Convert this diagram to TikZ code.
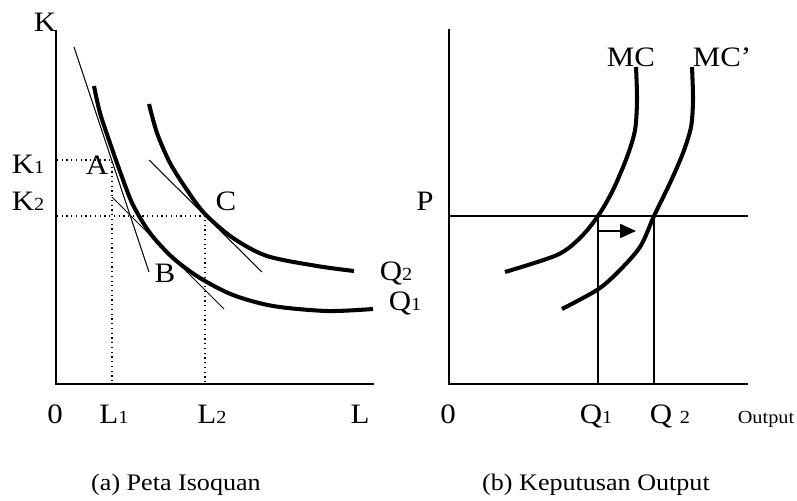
\documentclass[tikz,border=0pt]{standalone}
\usepackage{fontspec}
\setmainfont{Liberation Serif}[FakeStretch=1.1]
\usetikzlibrary{arrows.meta}
\newcommand{\sub}[1]{{\fontsize{10.5}{11}\selectfont #1}}

\begin{document}
\begin{tikzpicture}[x=0.02cm, y=-0.02cm,
  axis/.style={line width=1.1pt},
  curve/.style={line width=2.3pt, smooth},
  tang/.style={line width=0.6pt},
  guide/.style={line width=0.7pt, dotted},
  level/.style={line width=0.9pt},
  lbl/.style={font=\fontsize{16}{18}\selectfont, inner sep=0pt, anchor=base},
  captionlbl/.style={font=\fontsize{13.5}{15}\selectfont, inner sep=0pt, anchor=base},
  arr/.style={-{Triangle[length=9pt, width=8pt]}, line width=0.8pt}
]
\useasboundingbox (0,0) rectangle (797,500);

% (a) Isoquant map
\coordinate (ko) at (56,384);
\coordinate (ktop) at (56,30);
\coordinate (lend) at (374,384);
\draw[axis] (ktop) -- (ko) -- (lend);

% Isoquants
\draw[curve] plot coordinates {(94,86) (100,113) (110,143) (122,177) (133,205)
  (150,233) (173,258) (200,278) (233,295) (273,306) (327,311) (373,309)};
\draw[curve] plot coordinates {(149,104) (157,133) (170,163) (187,190)
  (205,214) (233,238) (267,256) (317,266) (354,271)};

% Tangents at A, B and C
\coordinate (ta1) at (74,47);   \coordinate (ta2) at (149,272);
\coordinate (tb1) at (112,197); \coordinate (tb2) at (224,309);
\coordinate (tc1) at (149,160); \coordinate (tc2) at (262,272);
\draw[tang] (ta1) -- (ta2);
\draw[tang] (tb1) -- (tb2);
\draw[tang] (tc1) -- (tc2);

% Dotted guides
\coordinate (k1) at (57,160);
\coordinate (k2) at (57,216);
\coordinate (l1) at (112,384);
\coordinate (l2) at (205,384);
\draw[guide] (k1) -| (l1);
\draw[guide] (k2) -| (l2);

% Labels
\node[lbl] (klab) at (45,32) {K};
\node[lbl] (k1lab) at (28,173) {K\sub{1}};
\node[lbl] (k2lab) at (28,210) {K\sub{2}};
\node[lbl] (alab) at (97,174) {A};
\node[lbl] (blab) at (165,282) {B};
\node[lbl] (clab) at (226,210) {C};
\node[lbl] (q2lab) at (396,280) {Q\sub{2}};
\node[lbl] (q1lab) at (405,310) {Q\sub{1}};
\node[lbl] (o1lab) at (55,423) {0};
\node[lbl] (l1lab) at (114,423) {L\sub{1}};
\node[lbl] (l2lab) at (212,423) {L\sub{2}};
\node[lbl] (llab) at (360,423) {L};
\node[captionlbl] (capa) at (176,490) {(a) Peta Isoquan};

% (b) Output decision
\coordinate (po) at (449,384);
\coordinate (ptop) at (449,29);
\coordinate (qend) at (748,384);
\coordinate (pend) at (748,216);
\coordinate (pleft) at (449,216);
\draw[axis] (ptop) -- (po) -- (qend);
\draw[level] (pleft) -- (pend);

% Marginal cost curves
\draw[curve] plot coordinates {(636,67) (637,100) (635,130) (627,157)
  (613,190) (598,216) (580,238) (557,255) (505,272)};
\draw[curve] plot coordinates {(692,67) (693,100) (691,127) (683,153)
  (670,183) (654,216) (640,247) (617,273) (597,290) (562,309)};

% Output levels
\coordinate (e1) at (598,216);
\coordinate (e2) at (654,216);
\coordinate (q1) at (598,384);
\coordinate (q2) at (654,384);
\draw[level] (e1) -- (q1);
\draw[level] (e2) -- (q2);

% Shift arrow
\coordinate (s1) at (598,231);
\coordinate (s2) at (636,231);
\draw[arr] (s1) -- (s2);

% Labels
\node[lbl] (plab) at (425,210) {P};
\node[lbl] (mclab) at (631,67) {MC};
\node[lbl] (mc2lab) at (722,67) {MC'};
\node[lbl] (o2lab) at (448,423) {0};
\node[lbl] (qq1lab) at (596,423) {Q\sub{1}};
\node[lbl] (qq2lab) at (670,423) {Q \sub{2}};
\node[font=\fontsize{10.5}{12}\selectfont, inner sep=0pt, anchor=base] (outlab) at (766,423) {Output};
\node[captionlbl] (capb) at (596,490) {(b) Keputusan Output};
\end{tikzpicture}
\end{document}
